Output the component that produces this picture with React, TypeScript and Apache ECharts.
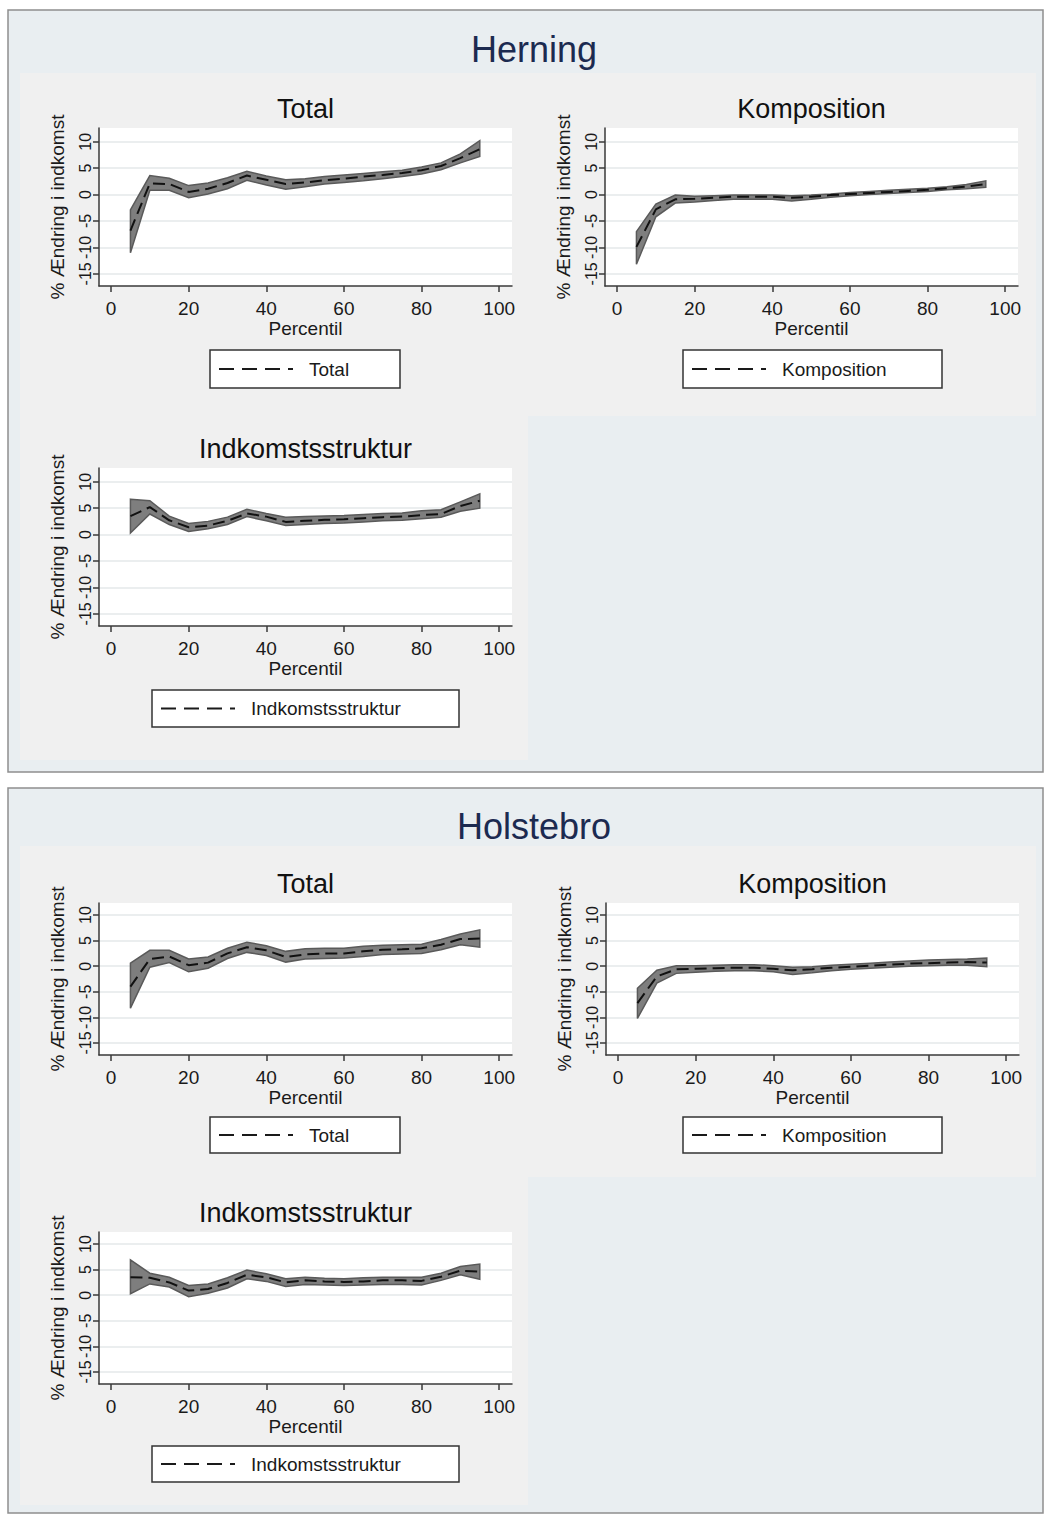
import React, { useEffect, useRef } from "react";
import * as echarts from "echarts";

// ---------- DATA ----------
const percentiles = [5, 10, 15, 20, 25, 30, 35, 40, 45, 50, 55, 60, 65, 70, 75, 80, 85, 90, 95];
const xTicks = [0, 20, 40, 60, 80, 100];
const yTicks = [-15, -10, -5, 0, 5, 10];
const regionTitles = ["Herning", "Holstebro"];
const panelTitles = ["Total", "Komposition", "Indkomstsstruktur"];
const xAxisName = "Percentil";
const yAxisName = "% Ændring i indkomst";

const herningTotalMean = [-6.8, 2.1, 2.0, 0.5, 1.1, 2.2, 3.6, 2.8, 2.0, 2.3, 2.7, 3.0, 3.4, 3.7, 4.1, 4.6, 5.4, 6.9, 8.6];
const herningTotalLow = [-11.0, 0.8, 0.8, -0.6, 0.1, 1.1, 2.7, 1.8, 1.0, 1.5, 2.0, 2.3, 2.6, 3.0, 3.4, 3.9, 4.7, 6.0, 7.2];
const herningTotalHigh = [-2.9, 3.6, 3.1, 1.7, 2.2, 3.2, 4.4, 3.5, 2.8, 3.0, 3.4, 3.7, 4.0, 4.3, 4.6, 5.2, 6.0, 7.7, 10.2];

const herningKompMean = [-9.9, -2.8, -0.9, -0.8, -0.6, -0.4, -0.4, -0.4, -0.6, -0.4, -0.1, 0.1, 0.3, 0.5, 0.7, 0.9, 1.2, 1.5, 2.0];
const herningKompLow = [-13.2, -4.2, -1.6, -1.4, -1.1, -0.9, -0.9, -0.9, -1.2, -0.9, -0.5, -0.2, 0.0, 0.2, 0.4, 0.6, 0.9, 1.1, 1.4];
const herningKompHigh = [-7.0, -1.8, -0.1, -0.3, -0.2, -0.1, -0.1, -0.1, -0.2, -0.1, 0.1, 0.4, 0.6, 0.8, 1.0, 1.2, 1.5, 1.9, 2.6];

const herningIndkMean = [3.5, 5.2, 2.7, 1.4, 1.7, 2.6, 4.0, 3.4, 2.4, 2.6, 2.8, 2.9, 3.1, 3.3, 3.4, 3.7, 3.9, 5.4, 6.4];
const herningIndkLow = [0.3, 3.9, 1.9, 0.6, 1.1, 1.9, 3.4, 2.6, 1.7, 1.9, 2.1, 2.2, 2.4, 2.6, 2.7, 3.0, 3.3, 4.4, 5.0];
const herningIndkHigh = [6.7, 6.4, 3.5, 2.1, 2.5, 3.3, 4.8, 4.0, 3.3, 3.4, 3.5, 3.6, 3.8, 4.0, 4.1, 4.5, 4.7, 6.2, 7.7];

const holstebroTotalMean = [-4.0, 1.4, 1.9, 0.2, 0.7, 2.5, 3.7, 3.1, 1.8, 2.3, 2.5, 2.5, 2.9, 3.2, 3.3, 3.5, 4.2, 5.3, 5.4];
const holstebroTotalLow = [-8.2, -0.2, 0.7, -1.1, -0.4, 1.5, 2.7, 2.1, 0.8, 1.4, 1.5, 1.6, 1.9, 2.3, 2.4, 2.5, 3.2, 4.2, 3.7];
const holstebroTotalHigh = [0.6, 3.1, 3.1, 1.4, 1.8, 3.5, 4.7, 4.0, 2.9, 3.4, 3.5, 3.5, 3.9, 4.1, 4.2, 4.3, 5.2, 6.3, 7.1];

const holstebroKompMean = [-7.2, -2.0, -0.6, -0.5, -0.4, -0.3, -0.3, -0.5, -0.8, -0.6, -0.3, -0.1, 0.1, 0.3, 0.5, 0.6, 0.7, 0.8, 0.7];
const holstebroKompLow = [-10.2, -3.3, -1.4, -1.2, -1.0, -0.9, -0.9, -1.1, -1.6, -1.3, -0.9, -0.6, -0.4, -0.2, 0.0, 0.1, 0.2, 0.2, -0.1];
const holstebroKompHigh = [-4.3, -0.8, 0.1, 0.1, 0.2, 0.3, 0.3, 0.1, -0.2, -0.1, 0.2, 0.4, 0.6, 0.8, 1.0, 1.2, 1.3, 1.4, 1.6];

const holstebroIndkMean = [3.5, 3.4, 2.5, 0.9, 1.2, 2.4, 4.0, 3.5, 2.5, 2.9, 2.7, 2.6, 2.7, 2.9, 2.9, 2.8, 3.6, 4.8, 4.6];
const holstebroIndkLow = [0.3, 2.2, 1.6, -0.3, 0.4, 1.4, 3.2, 2.7, 1.7, 2.1, 2.0, 1.9, 2.0, 2.1, 2.1, 2.0, 2.9, 4.0, 3.1];
const holstebroIndkHigh = [6.9, 4.3, 3.5, 1.9, 2.2, 3.4, 4.9, 4.2, 3.2, 3.5, 3.3, 3.2, 3.4, 3.5, 3.5, 3.5, 4.3, 5.6, 6.1];

// ---------- LAYOUT ----------
const FONT = "'Liberation Sans', Arial, Helvetica, sans-serif";

const panels = [
  { title: panelTitles[0], mean: herningTotalMean, low: herningTotalLow, high: herningTotalHigh, left: 99, top: 128, width: 413, height: 158, yMin: -17.3, yMax: 12.6, legend: { x: 210, y: 350, w: 190, h: 38 } },
  { title: panelTitles[1], mean: herningKompMean, low: herningKompLow, high: herningKompHigh, left: 605, top: 128, width: 413, height: 158, yMin: -17.3, yMax: 12.6, legend: { x: 683, y: 350, w: 259, h: 38 } },
  { title: panelTitles[2], mean: herningIndkMean, low: herningIndkLow, high: herningIndkHigh, left: 99, top: 468, width: 413, height: 158, yMin: -17.3, yMax: 12.6, legend: { x: 152, y: 690, w: 307, h: 37 } },
  { title: panelTitles[0], mean: holstebroTotalMean, low: holstebroTotalLow, high: holstebroTotalHigh, left: 99, top: 903, width: 413, height: 152, yMin: -17.35, yMax: 12.35, legend: { x: 210, y: 1117, w: 190, h: 36 } },
  { title: panelTitles[1], mean: holstebroKompMean, low: holstebroKompLow, high: holstebroKompHigh, left: 606, top: 903, width: 413, height: 152, yMin: -17.35, yMax: 12.35, legend: { x: 683, y: 1117, w: 259, h: 36 } },
  { title: panelTitles[2], mean: holstebroIndkMean, low: holstebroIndkLow, high: holstebroIndkHigh, left: 99, top: 1232, width: 413, height: 152, yMin: -17.35, yMax: 12.35, legend: { x: 152, y: 1446, w: 307, h: 36 } },
];

const regionBoxes = [
  { title: regionTitles[0], x: 8, y: 10, w: 1035, h: 762, titleY: 49, cells: [[20, 73, 508, 343], [528, 73, 508, 343], [20, 416, 508, 344]] },
  { title: regionTitles[1], x: 8, y: 788, w: 1035, h: 725, titleY: 826, cells: [[20, 846, 508, 331], [528, 846, 508, 331], [20, 1177, 508, 328]] },
];

function buildOption() {
  const grid: any[] = [];
  const xAxis: any[] = [];
  const yAxis: any[] = [];
  const series: any[] = [];
  const graphic: any[] = [];

  regionBoxes.forEach((r) => {
    graphic.push({
      type: "rect", z: -20, silent: true,
      shape: { x: r.x, y: r.y, width: r.w, height: r.h },
      style: { fill: "#e9eef1", stroke: "#8e8e8e", lineWidth: 1.5 },
    });
    r.cells.forEach((c) => {
      graphic.push({
        type: "rect", z: -15, silent: true,
        shape: { x: c[0], y: c[1], width: c[2], height: c[3] },
        style: { fill: "#f0f0f0" },
      });
    });
    graphic.push({
      type: "text", z: 10, x: 534, y: r.titleY,
      style: { text: r.title, fontSize: 36, fontFamily: FONT, fill: "#1c2a50", align: "center", verticalAlign: "middle" },
    });
  });

  panels.forEach((p, i) => {
    grid.push({ left: p.left, top: p.top, width: p.width, height: p.height, show: true, backgroundColor: "#ffffff", borderWidth: 0 });
    const axisColor = "#3a3a3a";
    xAxis.push({
      type: "value", gridIndex: i, min: -3.1, max: 103.3,
      axisLine: { show: true, onZero: false, lineStyle: { color: axisColor, width: 1.5 } },
      axisTick: { show: true, customValues: xTicks, length: 6, lineStyle: { color: axisColor, width: 1.5 } },
      axisLabel: { customValues: xTicks, fontSize: 19, fontFamily: FONT, color: "#1a1a1a", margin: 13 },
      splitLine: { show: false },
      name: xAxisName, nameLocation: "middle", nameGap: 31,
      nameTextStyle: { fontSize: 19, fontFamily: FONT, color: "#1a1a1a" },
    });
    yAxis.push({
      type: "value", gridIndex: i, min: p.yMin, max: p.yMax,
      axisLine: { show: true, onZero: false, lineStyle: { color: axisColor, width: 1.5 } },
      axisTick: { show: true, customValues: yTicks, length: 6, lineStyle: { color: axisColor, width: 1.5 } },
      axisLabel: { customValues: yTicks, rotate: 90, fontSize: 16, fontFamily: FONT, color: "#1a1a1a", margin: 6 },
      splitLine: { show: true, lineStyle: { color: "#e4e8ea", width: 1.5 } },
      name: yAxisName, nameLocation: "middle", nameGap: 32,
      nameTextStyle: { fontSize: 19, fontFamily: FONT, color: "#1a1a1a" },
    });

    const bandData = percentiles.map((x, k) => [x, p.low[k], p.high[k]]);
    const meanPts = percentiles.map((x, k) => [x, p.mean[k]]);

    series.push({
      type: "custom", xAxisIndex: i, yAxisIndex: i, data: bandData, silent: true,
      encode: { x: 0, y: [1, 2] }, z: 1,
      renderItem: (params: any, api: any) => {
        if (params.dataIndex !== 0) return null;
        const upper = bandData.map((d) => api.coord([d[0], d[2]]));
        const lower = bandData.map((d) => api.coord([d[0], d[1]])).reverse();
        return {
          type: "polygon",
          shape: { points: upper.concat(lower) },
          style: { fill: "#7e7e7e", stroke: "#5a5a5a", lineWidth: 1.5 },
        };
      },
    });
    series.push({
      type: "line", xAxisIndex: i, yAxisIndex: i, data: meanPts, symbol: "none", silent: true, z: 3,
      lineStyle: { color: "#111111", width: 2, type: [12, 6] },
    });

    // panel title
    graphic.push({
      type: "text", z: 10, x: p.left + p.width / 2, y: p.top - 19,
      style: { text: p.title, fontSize: 27, fontFamily: FONT, fill: "#111111", align: "center", verticalAlign: "middle" },
    });
    // legend box
    const L = p.legend;
    const cy = L.y + L.h / 2;
    graphic.push({
      type: "rect", z: 10, silent: true,
      shape: { x: L.x, y: L.y, width: L.w, height: L.h },
      style: { fill: "#ffffff", stroke: "#333333", lineWidth: 1.5 },
    });
    graphic.push({
      type: "line", z: 11, silent: true,
      shape: { x1: L.x + 9, y1: cy, x2: L.x + 83, y2: cy },
      style: { stroke: "#1a1a1a", lineWidth: 2.2, lineDash: [15, 8] },
    });
    graphic.push({
      type: "text", z: 11, x: L.x + 99, y: cy,
      style: { text: p.title, fontSize: 19, fontFamily: FONT, fill: "#1a1a1a", align: "left", verticalAlign: "middle" },
    });
  });

  return {
    animation: false,
    backgroundColor: "#ffffff",
    grid, xAxis, yAxis, series, graphic,
  };
}

export default function App() {
  const ref = useRef<HTMLDivElement>(null);
  useEffect(() => {
    if (!ref.current) return;
    const chart = echarts.init(ref.current, undefined, { renderer: "svg" });
    chart.setOption(buildOption() as any);
    return () => chart.dispose();
  }, []);
  return <div ref={ref} style={{ position: "absolute", left: 0, top: 0, width: 1044, height: 1515 }} />;
}
